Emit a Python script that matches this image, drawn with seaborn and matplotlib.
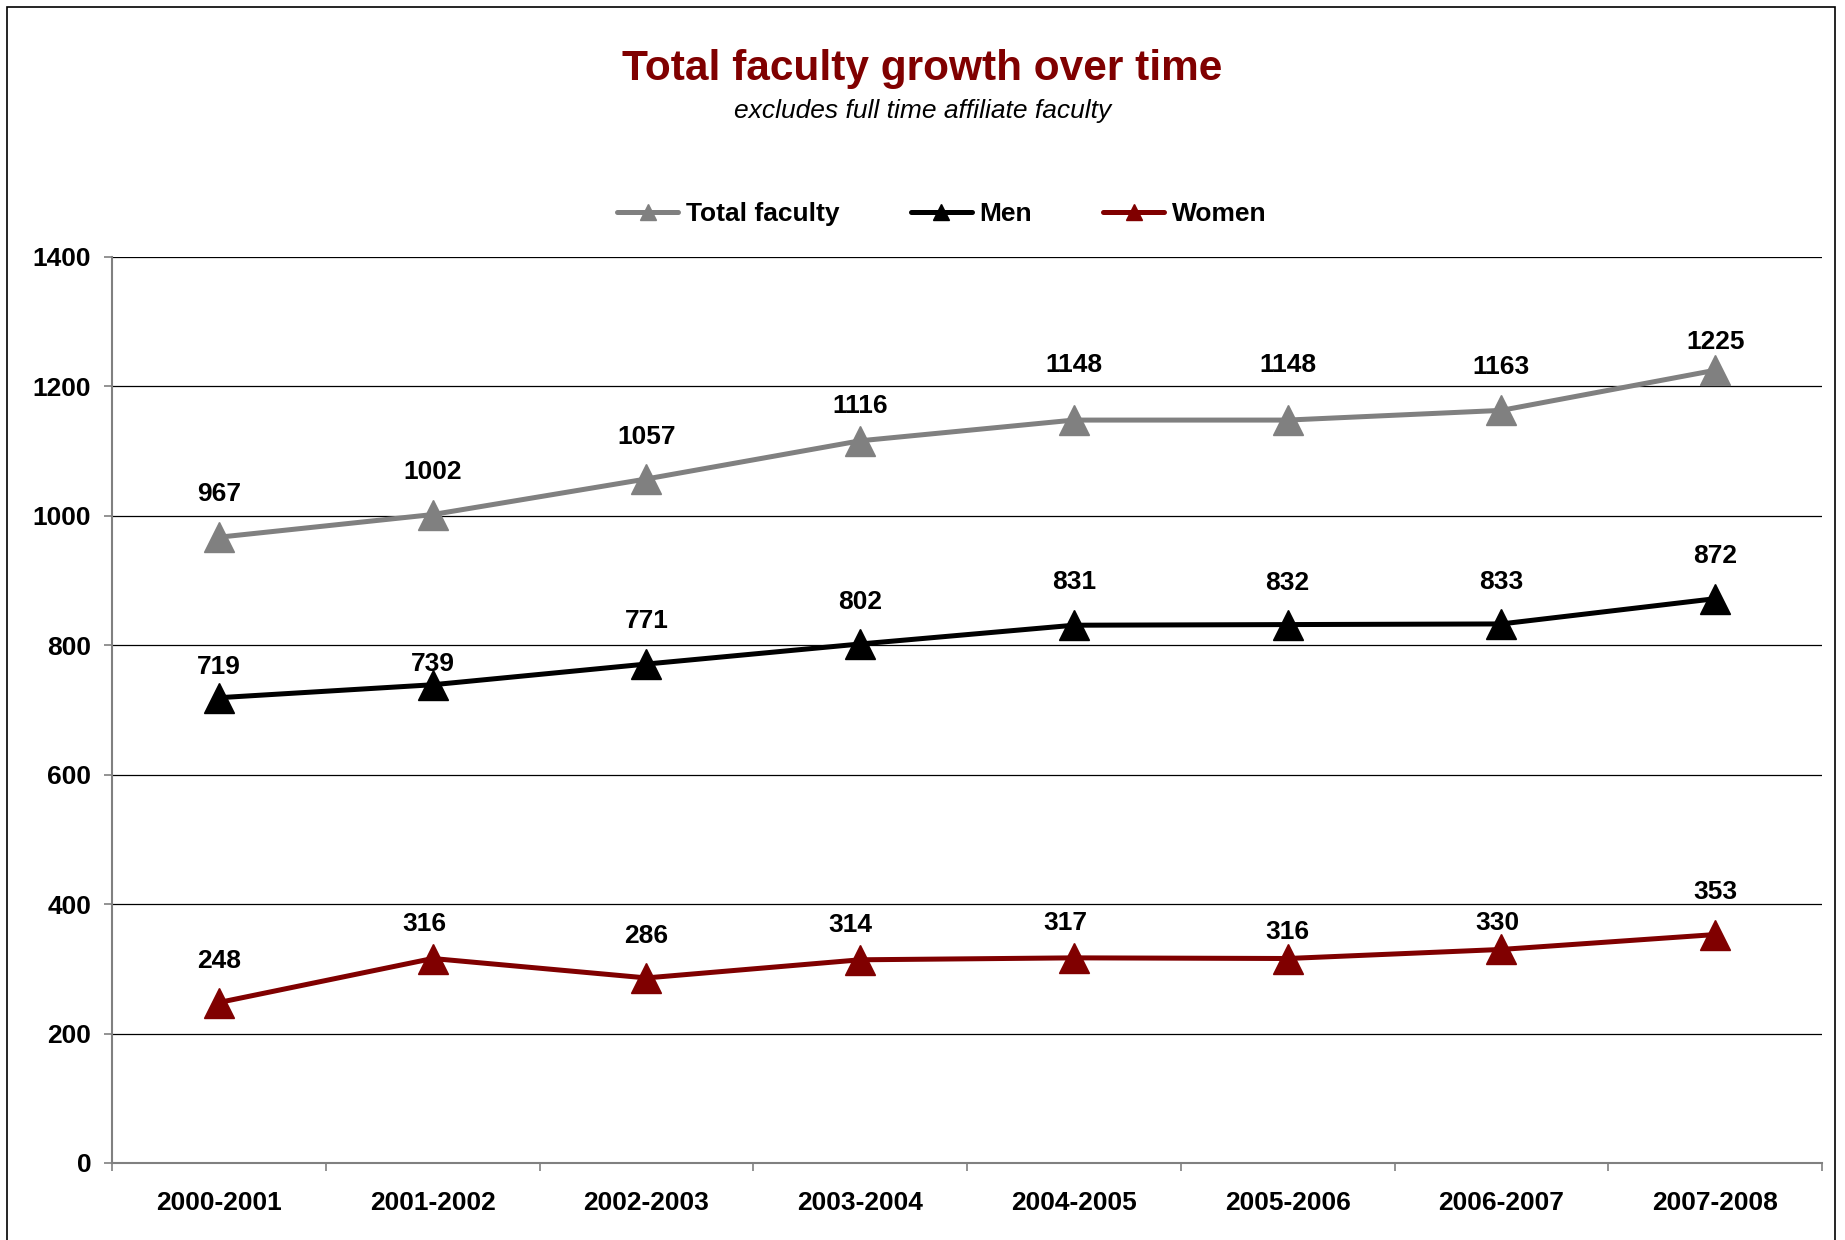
import numpy as np
import pandas as pd
import matplotlib
matplotlib.use("Agg")
import matplotlib.pyplot as plt
import seaborn as sns
from matplotlib.patches import Rectangle
from matplotlib.ticker import FixedLocator

# data
years = ["2000-2001", "2001-2002", "2002-2003", "2003-2004",
         "2004-2005", "2005-2006", "2006-2007", "2007-2008"]
total_faculty = [967, 1002, 1057, 1116, 1148, 1148, 1163, 1225]
men = [719, 739, 771, 802, 831, 832, 833, 872]
women = [248, 316, 286, 314, 317, 316, 330, 353]
series_names = ["Total faculty", "Men", "Women"]

# label nudges (points above / right of each marker), as placed in the original
label_dy = [[31, 31, 30, 25, 40, 40, 31, 20],
            [22, 15, 31, 30, 31, 30, 30, 31],
            [30, 25, 30, 25, 25, 19, 19, 31]]
label_dx = [[0, 0, 0, 0, 0, 0, 0, 0],
            [0, 0, 0, 0, 0, 0, 0, 0],
            [0, -6, 0, -7, -6, 0, -3, 0]]

df = pd.DataFrame({
    "Year": years * 3,
    "Faculty": total_faculty + men + women,
    "Series": np.repeat(series_names, len(years)),
})

palette = {"Total faculty": "#808080", "Men": "#000000", "Women": "#800000"}

sns.set_style("white")
plt.rcParams["font.family"] = ["Liberation Sans", "DejaVu Sans"]
plt.rcParams["text.color"] = "black"
plt.rcParams["xtick.labelcolor"] = "black"
plt.rcParams["ytick.labelcolor"] = "black"

W, H = 1845, 1240
fig = plt.figure(figsize=(W / 100, H / 100), dpi=100)
ax = fig.add_axes([112 / W, 1 - 1163 / H, (1822 - 112) / W, (1163 - 257) / H])

sns.lineplot(data=df, x="Year", y="Faculty", hue="Series", style="Series",
             palette=palette, markers={s: "^" for s in series_names},
             dashes=False, sort=False, lw=3.6, ms=21, mew=1,
             legend=False, ax=ax)

for line in ax.lines:
    line.set_markeredgecolor(line.get_color())
    line.set_markerfacecolor(line.get_color())
    line.set_solid_joinstyle("round")

# data labels
for s, vals in enumerate([total_faculty, men, women]):
    for i, v in enumerate(vals):
        ax.annotate(str(v), (i, v), xytext=(label_dx[s][i], label_dy[s][i]),
                    textcoords="offset points", ha="center", va="center",
                    fontsize=19, fontweight="bold", color="black")

ax.set_xlim(-0.5, len(years) - 0.5)
ax.set_ylim(0, 1400)
ax.set_yticks(range(0, 1401, 200))
ax.set_xticks(range(len(years)))
ax.set_xticklabels(years)
ax.xaxis.set_minor_locator(FixedLocator(np.arange(-0.5, len(years), 1.0)))
ax.tick_params(axis="x", which="major", length=0, pad=20, labelsize=19,
               labelcolor="black")
ax.tick_params(axis="x", which="minor", length=6, width=1.2, color="#808080",
               direction="out", bottom=True)
ax.tick_params(axis="y", length=6, width=1.2, color="#808080", pad=9,
               labelsize=19, left=True, labelcolor="black")
for lab in ax.get_xticklabels() + ax.get_yticklabels():
    lab.set_fontweight("bold")

ax.grid(axis="y", color="black", lw=0.9)
ax.grid(axis="x", visible=False)
ax.set_axisbelow(True)
sns.despine(ax=ax)
for side in ["left", "bottom"]:
    ax.spines[side].set_color("#808080")
    ax.spines[side].set_linewidth(1.5)
ax.set_xlabel("")
ax.set_ylabel("")

fig.text(0.5, 1 - 69 / H, "Total faculty growth over time", ha="center",
         va="center", fontsize=30.5, fontweight="bold", color="#800000")
fig.text(0.5, 1 - 111 / H, "excludes full time affiliate faculty", ha="center",
         va="center", fontsize=19, fontstyle="italic", color="black")

fig.legend(ax.lines[:3], series_names, loc="center",
           bbox_to_anchor=(942 / W, 1 - 214 / H), ncol=3, frameon=False,
           prop={"size": 19, "weight": "bold"}, handlelength=2.3,
           handletextpad=0.3, columnspacing=2.7, markerscale=0.55,
           labelcolor="black")

fig.add_artist(Rectangle((7 / W, -0.05), (1835 - 7) / W, 1 - 7 / H + 0.05,
                         transform=fig.transFigure, fill=False,
                         edgecolor="black", lw=1.2))

fig.savefig("out.png", dpi=100)
